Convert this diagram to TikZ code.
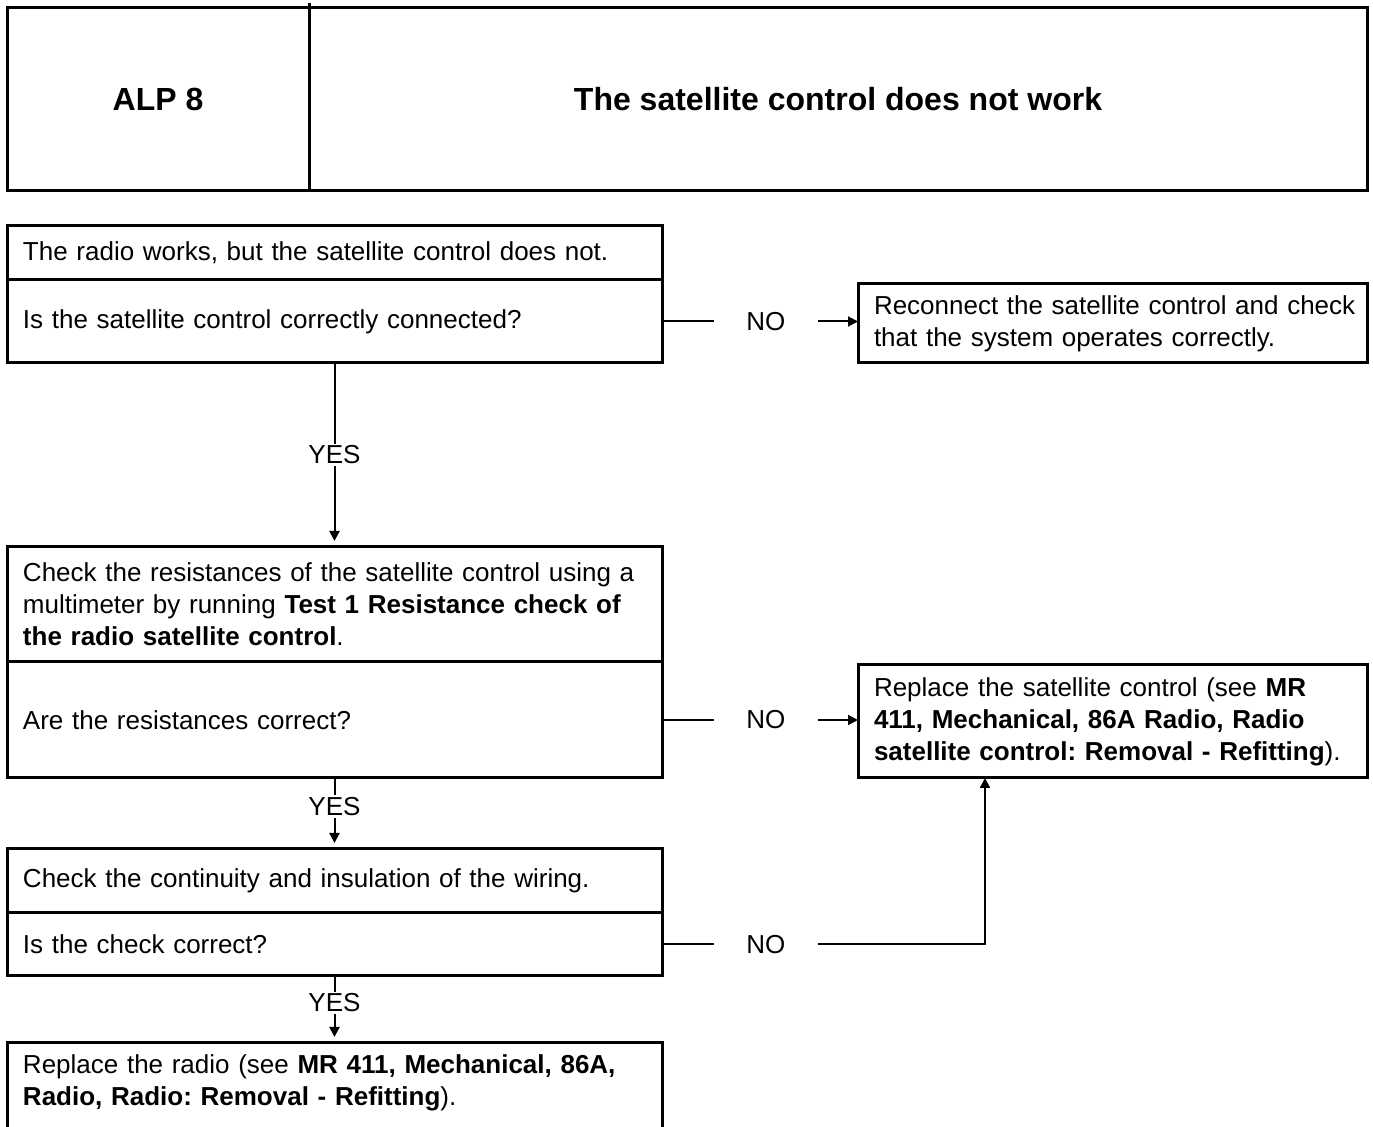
\documentclass[tikz,border=0pt]{standalone}
\usepackage{fontspec}
\setmainfont{Liberation Sans}
\frenchspacing
\usetikzlibrary{positioning,arrows.meta}

\begin{document}
\begin{tikzpicture}[x=0.5pt, y=-0.5pt,
  frame/.style={draw, line width=1.5pt, outer sep=0pt, inner sep=0pt},
  hcell/.style={frame, minimum height=91.5pt, font=\fontsize{16}{19}\selectfont\bfseries},
  box/.style={frame, inner xsep=8pt, text width=311.5pt, align=left, font=\fontsize{13}{16}\selectfont},
  rbox/.style={frame, inner xsep=8pt, text width=238.5pt, align=left, font=\fontsize{13}{16}\selectfont},
  lbl/.style={font=\fontsize{13}{16}\selectfont, fill=white, inner sep=1pt},
  nolbl/.style={font=\fontsize{13}{16}\selectfont, inner xsep=16pt, inner ysep=0pt},
  link/.style={line width=1pt},
  >={Triangle[length=5pt,width=5pt]}]
  \useasboundingbox (0,0) rectangle (1373,1127);
  % header
  \node[hcell, minimum width=151pt, anchor=north west] (alp) at (7,8) {ALP 8};
  \node[hcell, minimum width=529pt, right=0pt of alp] (title) {The satellite control does not work};
  % left column
  \node[box, minimum height=27pt, anchor=north west] (t1) at (7,226) {The radio works, but the satellite control does not.};
  \node[box, minimum height=41.5pt, below=0pt of t1] (q1) {Is the satellite control correctly connected?};
  \node[box, minimum height=57.5pt, below=92pt of q1] (t2) {Check the resistances of the satellite control using a\\multimeter by running \textbf{Test 1 Resistance check of}\\\textbf{the radio satellite control}.};
  \node[box, minimum height=58pt, below=0pt of t2] (q2) {Are the resistances correct?};
  \node[box, minimum height=32pt, below=35.5pt of q2] (t3) {Check the continuity and insulation of the wiring.};
  \node[box, minimum height=31.5pt, below=0pt of t3] (q3) {Is the check correct?};
  \node[box, minimum height=100pt, below=33.5pt of q3] (b4) {};
  \node[box, draw=none, minimum height=40pt, anchor=north] (b4text) at (b4.north) {Replace the radio (see \textbf{MR 411, Mechanical, 86A,}\\\textbf{Radio, Radio: Removal - Refitting}).};
  % right column
  \node[rbox, minimum height=39.5pt, above right=0pt and 98pt of q1.south east] (r1) {\mbox{Reconnect the satellite control and check}\\that the system operates correctly.};
  \node[rbox, minimum height=56.5pt, above right=0pt and 98pt of q2.south east] (r2) {Replace the satellite control (see \textbf{MR}\\\textbf{411, Mechanical, 86A Radio, Radio}\\\textbf{satellite control: Removal - Refitting}).};
  \node[nolbl, right=26pt of q1] (no1) {NO};
  \node[nolbl, right=26pt of q2] (no2) {NO};
  \node[nolbl, right=26pt of q3] (no3) {NO};
  \coordinate (rise) at (985,0);
  \draw[line width=1.5pt] (alp.north east) -- ++(0,-5);
  \draw[link] (q1.east) -- (no1.west);
  \draw[link, ->] (no1.east) -- (no1.east -| r1.west);
  \draw[link] (q2.east) -- (no2.west);
  \draw[link, ->] (no2.east) -- (no2.east -| r2.west);
  \draw[link] (q3.east) -- (no3.west);
  \draw[link, ->] (no3.east) -| (rise |- r2.south);
  \draw[link, ->, shorten >=3pt] (q1.south) -- node[lbl] {YES} (t2.north);
  \draw[link, ->, shorten >=3pt] (q2.south) -- node[lbl, pos=0.4] {YES} (t3.north);
  \draw[link, ->, shorten >=3pt] (q3.south) -- node[lbl, pos=0.4] {YES} (b4.north);
\end{tikzpicture}
\end{document}
